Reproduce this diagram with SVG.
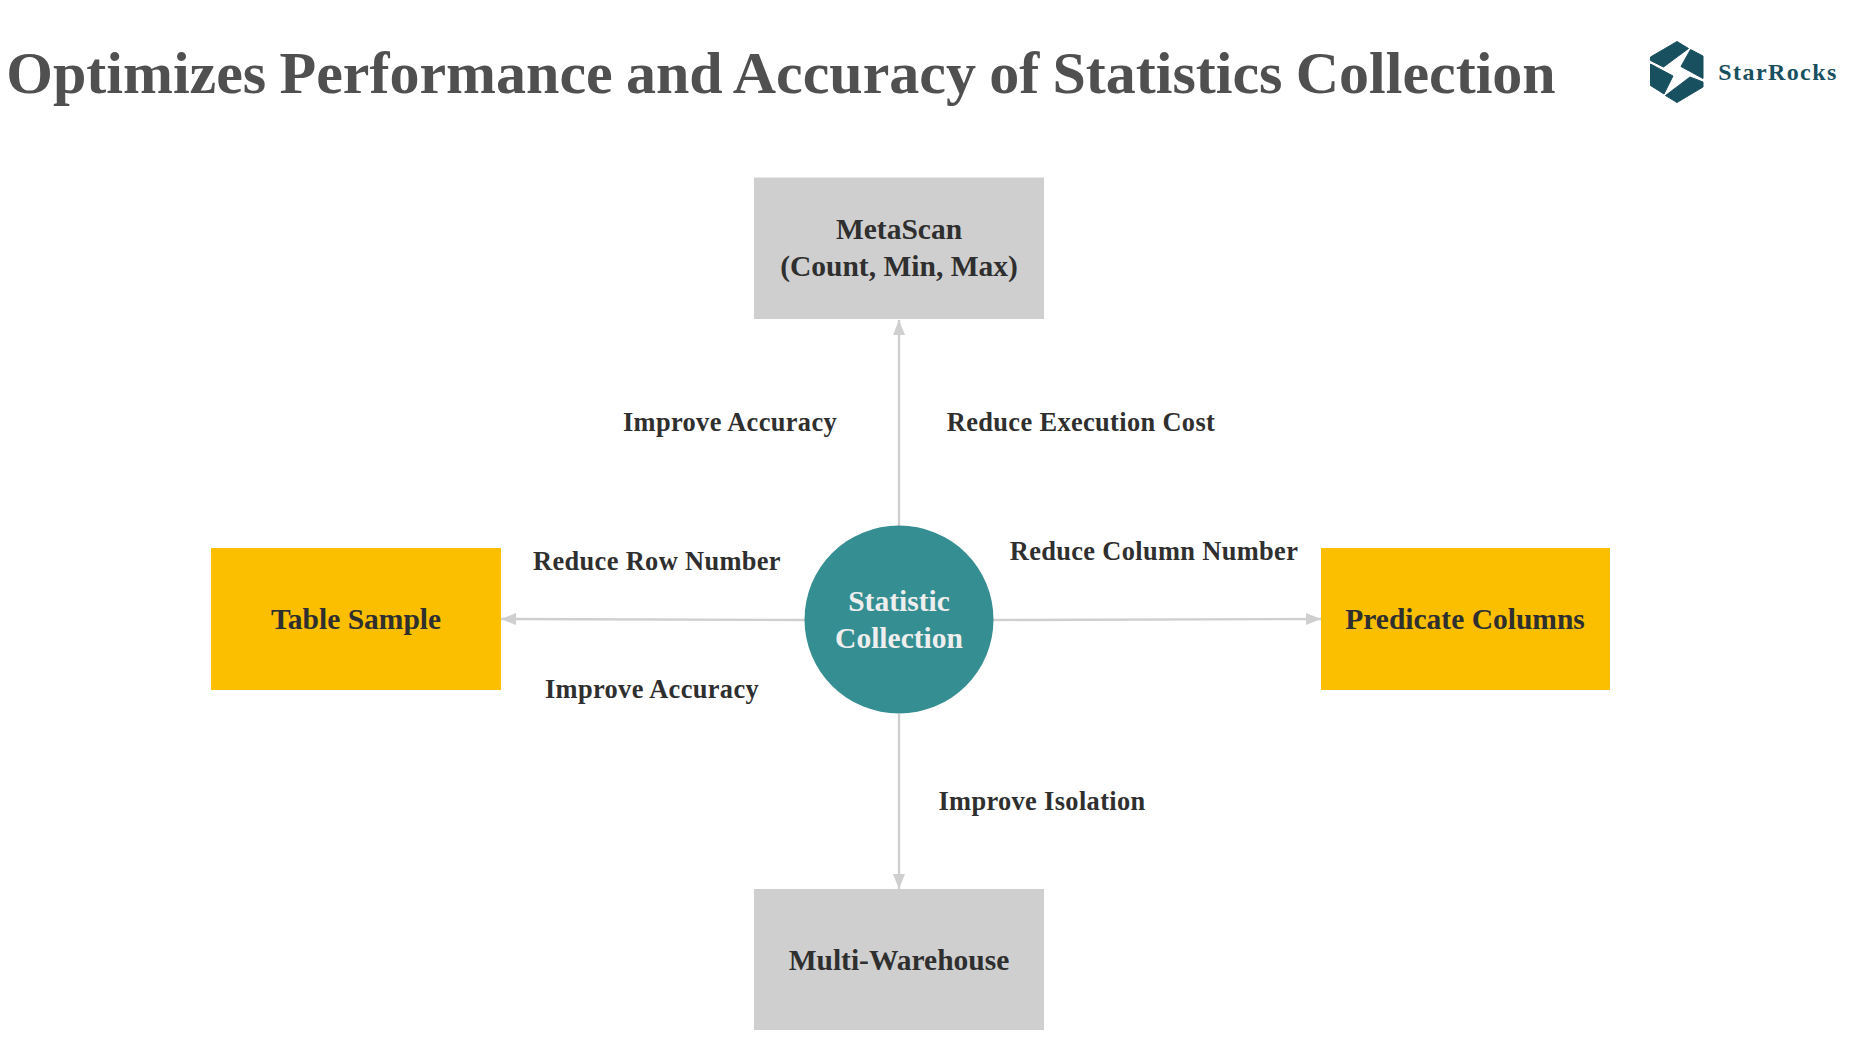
<svg xmlns="http://www.w3.org/2000/svg" width="1856" height="1050" viewBox="0 0 1856 1050">
<defs><marker id="a" markerUnits="userSpaceOnUse" markerWidth="16" markerHeight="14" refX="15" refY="6" orient="auto"><path d="M0 0L15 6L0 12Z" fill="#cfcfcf"/></marker></defs>
<style>
text{font-family:"Liberation Serif",serif;font-weight:700;text-anchor:middle}
.n{font-size:29.5px;fill:#2f2f2f}
.w{font-size:29.5px;fill:#eeeeee}
.l{font-size:26.4px;fill:#2f2f2f;letter-spacing:.35px}
.c{stroke:#cfcfcf;stroke-width:2.4;fill:none;marker-end:url(#a)}
.p{fill:#19505f;stroke:#19505f;stroke-width:1;stroke-linejoin:round}
</style>
<rect width="1856" height="1050" fill="#fff"/>
<text id="title" x="781" y="93" font-size="60" word-spacing="-1.7" fill="#505050">Optimizes Performance and Accuracy of Statistics Collection</text>
<g id="logo">
<path class="p" d="M1650.5 57L1677 41.5L1688.5 48.5L1663.5 67L1650.5 60.5Z"/>
<path class="p" d="M1650.5 64L1673 76L1664 94L1650.5 85.5Z"/>
<path class="p" d="M1690.5 49.5L1703 56V78.5L1681 66.5Z"/>
<path class="p" d="M1665.5 95.5L1690 77L1703 82V87L1677 102.5Z"/>
<text x="1778" y="80" font-size="24" letter-spacing="1.4" fill="#19505f">StarRocks</text>
</g>
<g id="connectors">
<path class="c" d="M899 526V320"/>
<path class="c" d="M899 714V889"/>
<path class="c" d="M805 620L501 619"/>
<path class="c" d="M993 620L1321 619"/>
</g>
<g id="metascan"><rect x="754" y="177.5" width="290" height="141.5" fill="#cfcfcf"/><text class="n" x="899" y="239">MetaScan</text><text class="n" x="899" y="276">(Count, Min, Max)</text></g>
<g id="table-sample"><rect x="211" y="548" width="290" height="142" fill="#fbbf00"/><text class="n" x="356" y="629">Table Sample</text></g>
<g id="predicate-columns"><rect x="1321" y="548" width="289" height="142" fill="#fbbf00"/><text class="n" x="1465" y="629">Predicate Columns</text></g>
<g id="multi-warehouse"><rect x="754" y="889" width="290" height="141" fill="#cfcfcf"/><text class="n" x="899" y="970">Multi-Warehouse</text></g>
<g id="statistic-collection"><ellipse cx="899" cy="619.5" rx="94.5" ry="94" fill="#358e91"/><text class="w" x="899" y="611">Statistic</text><text class="w" x="899" y="648">Collection</text></g>
<g id="labels">
<text class="l" x="730" y="431">Improve Accuracy</text>
<text class="l" x="1081" y="431">Reduce Execution Cost</text>
<text class="l" x="657" y="570">Reduce Row Number</text>
<text class="l" x="1154" y="560">Reduce Column Number</text>
<text class="l" x="652" y="698">Improve Accuracy</text>
<text class="l" x="1042" y="810">Improve Isolation</text>
</g>
</svg>
